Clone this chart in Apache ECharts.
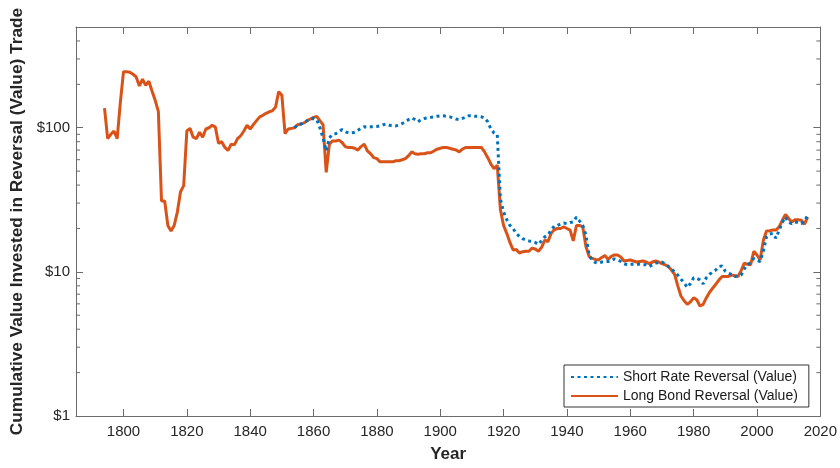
<!DOCTYPE html>
<html>
<head>
<meta charset="utf-8">
<script src="https://cdn.jsdelivr.net/npm/echarts@6/dist/echarts.min.js"></script>
<style>
html,body{margin:0;padding:0;background:#fff;}
#chart{width:840px;height:468px;}
</style>
</head>
<body>
<div id="chart"></div>
<script>
// ---- data ----
const longBondStart = 1794;
const longBondValues = [
  137, 84, 90, 95, 84, 150,
  245, 245, 243, 235, 225, 195, 217, 197, 210, 180,
  155, 130, 31, 31, 21, 19.2, 21, 26, 36, 39.7,
  95, 99, 86, 84, 93, 86, 98, 100, 104, 101,
  78, 80, 73, 69.5, 77, 76, 84, 88, 95, 104,
  98, 105, 112, 119, 122, 126, 129, 131, 139, 178,
  168, 91, 98, 99, 100, 105, 106, 108, 112, 115,
  118, 120, 112, 105, 49, 77, 81, 81, 82, 79,
  74, 73, 73, 72, 70, 74, 77, 69, 66, 62,
  61, 58, 58, 58, 58, 58, 59, 59, 60, 61,
  64, 68, 66, 65.5, 66, 66, 67, 67, 69, 71,
  72, 73, 73, 72, 71, 70, 68, 71, 73, 73,
  73, 73, 73, 73, 68, 62, 56, 52, 55, 27,
  21, 18.5, 16, 14.2, 14.3, 13.5, 13.8, 13.9, 13.9, 14.6,
  14.4, 13.9, 14.8, 16.6, 16.2, 18.5, 19.6, 20, 20, 20.5,
  20, 19.5, 16.4, 21, 21, 20.5, 15, 12.8, 12.4, 12.2,
  12.1, 12.6, 13, 12.2, 12.8, 13.1, 13.1, 12.7, 11.9, 12,
  12.1, 11.9, 11.7, 11.8, 11.9, 11.7, 11.4, 11.7, 11.9, 11.7,
  11.4, 11.2, 10.9, 10.3, 9.6, 8.0, 6.8, 6.3, 5.95, 6.2,
  6.6, 6.4, 5.8, 5.95, 6.6, 7.2, 7.7, 8.2, 8.8, 9.3,
  9.3, 9.3, 9.5, 9.4, 9.3, 10.2, 11.5, 11.3, 11.2, 13.9,
  13.1, 12.1, 16.5, 19.2, 19.3, 19.5, 19.5, 20.5, 22.8, 25,
  23.5, 22.2, 23, 23, 22.8, 21.4, 24
];
const shortRateStart = 1854;
const shortRateValues = [
  100, 105, 106, 108, 112, 115,
  116, 114, 100, 85, 69, 85, 90, 91, 94, 97,
  94, 92, 92, 93, 96, 99, 101.5, 101, 101.5, 101.5,
  102, 103, 105, 106, 104, 103, 103, 105, 107, 110,
  114, 117, 114, 110, 114, 116, 117, 118, 119, 120,
  121, 121, 120, 119, 117, 115, 114, 116, 118, 121,
  121, 120, 120, 119, 117, 110, 98, 92, 90, 32,
  26, 23, 21, 20, 18.5, 17.6, 17, 16.6, 16.4, 16.3,
  16, 15.5, 16.5, 17.5, 18, 19.5, 20.8, 21, 21.5, 21.8,
  21.6, 22, 22.2, 24, 22.5, 21, 18, 13.1, 12, 11.6,
  11.5, 11.7, 11.8, 11.8, 12, 12.3, 12.1, 11.8, 11.4, 11.2,
  11.3, 11.3, 11.3, 11.3, 11.2, 11.2, 10.9, 11.2, 11.5, 11.6,
  11.7, 11.4, 10.9, 10.5, 10, 9.5, 8.9, 8.4, 7.8, 8.3,
  9.1, 9, 8.8, 8.25, 9.1, 9.6, 10, 10.3, 10.9, 11,
  10.1, 9.8, 9.6, 9.3, 9.4, 9.5, 10.5, 11.2, 11.6, 12.4,
  12, 11.8, 13.9, 17.5, 18.3, 18.5, 17.1, 19.5, 22, 24,
  22, 21.6, 22.2, 22, 21.6, 22.5, 24.7
];
const seriesNames = ['Short Rate Reversal (Value)', 'Long Bond Reversal (Value)'];
const xRange = [1785, 2020];
const yRange = [1, 500];
const yMajorTicks = [1, 10, 100];
const yMinorTicks = [2, 3, 4, 5, 6, 7, 8, 9, 20, 30, 40, 50, 60, 70, 80, 90, 200, 300, 400];
const xTitle = 'Year';
const yTitle = 'Cumulative Value Invested in Reversal (Value) Trade';

// ---- build ----
const longData = longBondValues.map((v, i) => [longBondStart + i, v]);
const shortData = shortRateValues.map((v, i) => [shortRateStart + i, v]);

const FONT = '"Liberation Sans", Arial, Helvetica, sans-serif';
const AXIS_COLOR = '#6b6b6b';
const TEXT_COLOR = '#262626';
const BLUE = '#0072BD';
const ORANGE = '#D95319';

function xAxisCfg(pos, showLabels) {
  return {
    type: 'value', position: pos, min: xRange[0], max: xRange[1],
    minInterval: 20, maxInterval: 20,
    axisLine: {show: true, onZero: false, lineStyle: {color: AXIS_COLOR, width: 1}},
    axisTick: {show: true, inside: true, length: 7, lineStyle: {color: AXIS_COLOR}},
    axisLabel: {show: showLabels, color: TEXT_COLOR, fontSize: 15, fontFamily: FONT, margin: 8,
      formatter: v => (Math.round(v) % 20 === 0 ? String(Math.round(v)) : '')},
    splitLine: {show: false},
    name: showLabels ? xTitle : '',
    nameLocation: 'middle', nameGap: 30,
    nameTextStyle: {fontWeight: 'bold', fontSize: 17, color: TEXT_COLOR, fontFamily: FONT}
  };
}
function yAxisCfg(pos, showLabels) {
  return {
    type: 'log', logBase: 10, position: pos, min: yRange[0], max: yRange[1],
    axisLine: {show: true, onZero: false, lineStyle: {color: AXIS_COLOR, width: 1}},
    axisTick: {show: true, inside: true, length: 7, lineStyle: {color: AXIS_COLOR}},
    axisLabel: {show: showLabels, color: TEXT_COLOR, fontSize: 15, fontFamily: FONT, margin: 6,
      formatter: v => {
        const r = Math.round(v);
        return yMajorTicks.indexOf(r) >= 0 && Math.abs(v - r) < 1e-6 ? '$' + r : '';
      }},
    splitLine: {show: false},
    minorTick: {show: false},
    name: showLabels ? yTitle : '',
    nameLocation: 'middle', nameGap: 45, nameRotate: 90,
    nameTextStyle: {fontWeight: 'bold', fontSize: 17.3, color: TEXT_COLOR, fontFamily: FONT}
  };
}

const chart = echarts.init(document.getElementById('chart'), null, {renderer: 'canvas'});
chart.setOption({
  animation: false,
  backgroundColor: '#fff',
  textStyle: {fontFamily: FONT},
  grid: {left: 76, right: 19, top: 27, bottom: 49},
  xAxis: [xAxisCfg('bottom', true), xAxisCfg('top', false)],
  yAxis: [yAxisCfg('left', true), yAxisCfg('right', false)],
  legend: {
    data: seriesNames,
    orient: 'vertical', left: 564, bottom: 61,
    padding: [5, 11, 4, 6], itemGap: 5, itemWidth: 47, itemHeight: 14,
    borderColor: '#333', borderWidth: 1, backgroundColor: '#fff',
    itemStyle: {opacity: 0, borderWidth: 0},
    textStyle: {fontSize: 14, color: '#1a1a1a', fontFamily: FONT}
  },
  series: [
    {
      name: seriesNames[1], type: 'line', data: longData, symbol: 'none',
      xAxisIndex: 0, yAxisIndex: 0,
      lineStyle: {color: ORANGE, width: 3}, itemStyle: {color: ORANGE}, z: 3
    },
    {
      name: seriesNames[0], type: 'line', data: shortData, symbol: 'none',
      xAxisIndex: 0, yAxisIndex: 0,
      lineStyle: {color: BLUE, width: 3, type: [3, 3.5]}, itemStyle: {color: BLUE}, z: 4
    },
    {
      type: 'custom', xAxisIndex: 0, yAxisIndex: 0, silent: true, clip: false, z: 5,
      data: yMinorTicks.map(v => [xRange[0], v]),
      encode: {x: 0, y: 1},
      renderItem: function (params, api) {
        const v = api.value(1);
        const L = api.coord([xRange[0], v]);
        const R = api.coord([xRange[1], v]);
        const st = {stroke: AXIS_COLOR, lineWidth: 1};
        return {type: 'group', children: [
          {type: 'line', shape: {x1: L[0], y1: L[1], x2: L[0] + 4, y2: L[1]}, style: st},
          {type: 'line', shape: {x1: R[0], y1: R[1], x2: R[0] - 4, y2: R[1]}, style: st}
        ]};
      }
    }
  ]
});
</script>
</body>
</html>
